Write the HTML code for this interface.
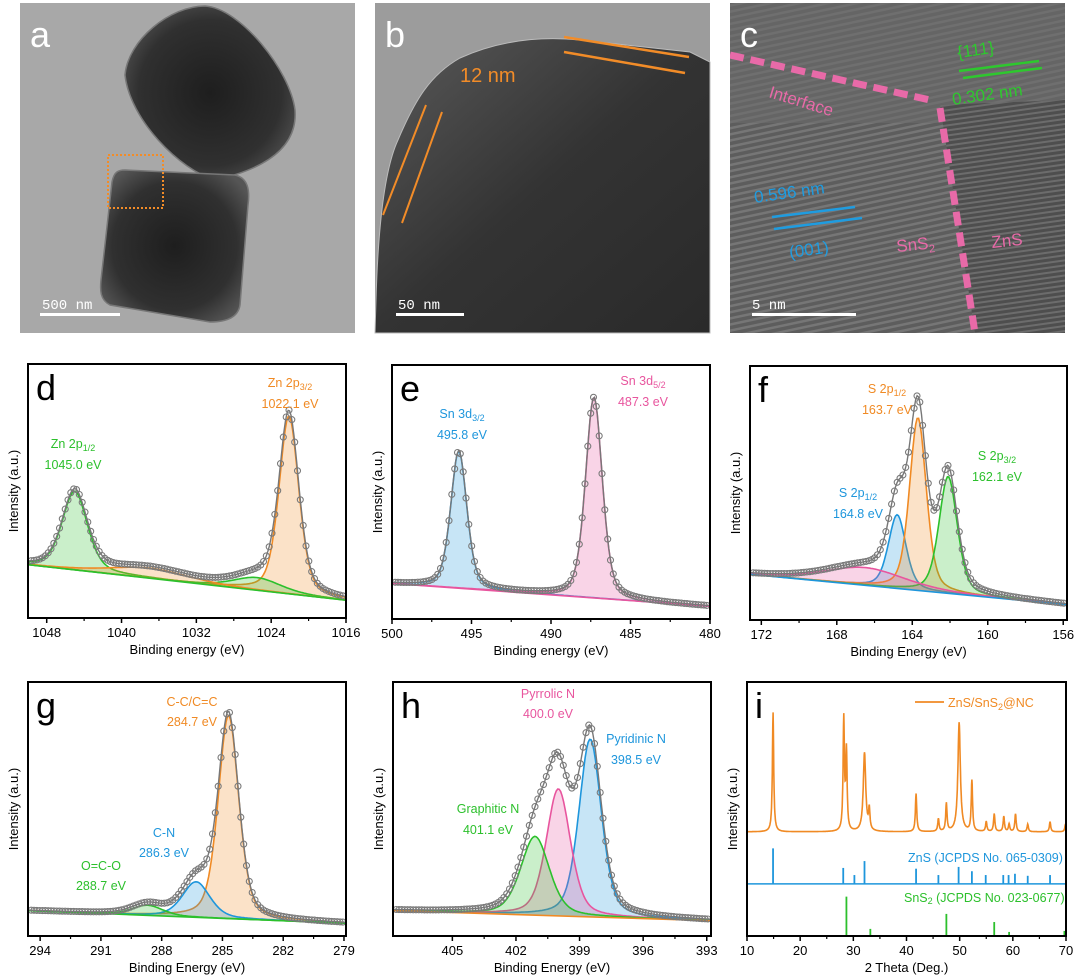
<!DOCTYPE html>
<html><head><meta charset="utf-8"><style>
html,body{margin:0;padding:0;background:#fff;}
svg{display:block;font-family:"Liberation Sans",sans-serif;}
</style></head><body>
<svg id="fig" width="1080" height="978" viewBox="0 0 1080 978" xmlns="http://www.w3.org/2000/svg">
<defs>
<radialGradient id="gA" cx="50%" cy="50%" r="60%"><stop offset="0" stop-color="#1e1e1e"/><stop offset="0.7" stop-color="#303030"/><stop offset="1" stop-color="#555"/></radialGradient>
<linearGradient id="gB" x1="0" y1="0" x2="1" y2="1"><stop offset="0" stop-color="#5a5a5a"/><stop offset="0.5" stop-color="#333"/><stop offset="1" stop-color="#2a2a2a"/></linearGradient>
<pattern id="lat1" width="6" height="6" patternUnits="userSpaceOnUse" patternTransform="rotate(-12)"><rect width="6" height="6" fill="#5d5d5d"/><rect width="6" height="2.5" fill="#767676"/></pattern>
<pattern id="lat2" width="5" height="5" patternUnits="userSpaceOnUse" patternTransform="rotate(-8)"><rect width="5" height="5" fill="#4e4e4e"/><rect width="5" height="2" fill="#6c6c6c"/></pattern>
<clipPath id="cc"><rect x="730" y="3" width="335" height="330"/></clipPath>
</defs>

<g>
<rect x="20" y="3" width="335" height="330" fill="#a8a8a8"/>
<path d="M205,6 C240,8 290,70 295,110 C298,150 260,170 215,180 C180,170 130,120 125,75 C128,40 170,6 205,6Z" fill="url(#gA)" stroke="#777" stroke-width="1.5"/>
<path d="M125,170 L235,175 C248,178 250,190 248,205 L240,305 C238,318 225,322 210,322 L110,305 C100,300 100,290 101,280 L112,182 C114,172 118,170 125,170Z" fill="url(#gA)" stroke="#777" stroke-width="1.5"/>
<rect x="108" y="155" width="55" height="53" fill="none" stroke="#f28c28" stroke-width="2" stroke-dasharray="2,2"/>
<text x="30" y="47" font-size="36" fill="#fff">a</text>
<text x="42" y="309" font-size="14" fill="#fff" font-family="Liberation Mono">500 nm</text>
<rect x="40" y="313" width="80" height="3" fill="#fff"/>
</g>

<g>
<rect x="375" y="3" width="335" height="330" fill="#9c9c9c"/>
<path d="M376,300 C378,230 384,170 398,140 C415,100 430,75 460,58 C500,40 540,36 580,40 L690,52 L710,62 L710,333 L375,333Z" fill="url(#gB)" stroke="#bbb" stroke-width="1"/>
<line x1="383" y1="215" x2="426" y2="105" stroke="#f28c28" stroke-width="2"/>
<line x1="402" y1="223" x2="442" y2="112" stroke="#f28c28" stroke-width="2"/>
<line x1="564" y1="37" x2="689" y2="57" stroke="#f28c28" stroke-width="2.5"/>
<line x1="564" y1="52" x2="685" y2="73" stroke="#f28c28" stroke-width="2.5"/>
<text x="460" y="82" font-size="20" fill="#f28c28">12 nm</text>
<text x="385" y="47" font-size="36" fill="#fff">b</text>
<text x="398" y="309" font-size="14" fill="#fff" font-family="Liberation Mono">50 nm</text>
<rect x="396" y="313" width="68" height="3" fill="#fff"/>
</g>

<g clip-path="url(#cc)">
<rect x="730" y="3" width="335" height="330" fill="url(#lat1)"/>
<rect x="730" y="3" width="335" height="120" fill="#6a6a6a" opacity="0.6"/>
<path d="M940,105 L1065,100 L1065,333 L975,333Z" fill="url(#lat2)"/>
<polyline points="730,55 930,100" fill="none" stroke="#e86aa8" stroke-width="7" stroke-dasharray="14,7"/>
<polyline points="940,108 975,333" fill="none" stroke="#e86aa8" stroke-width="7" stroke-dasharray="14,7"/>
<line x1="959" y1="71" x2="1039" y2="61" stroke="#2ec82e" stroke-width="2.5"/>
<line x1="963" y1="78" x2="1042" y2="68" stroke="#2ec82e" stroke-width="2.5"/>
<text x="958" y="58" font-size="17" fill="#2ec82e" transform="rotate(-8 958 58)">{111}</text>
<text x="953" y="105" font-size="17" fill="#2ec82e" transform="rotate(-8 953 105)">0.302 nm</text>
<line x1="772" y1="217" x2="855" y2="207" stroke="#1f9ce0" stroke-width="2.5"/>
<line x1="774" y1="229" x2="862" y2="218" stroke="#1f9ce0" stroke-width="2.5"/>
<text x="755" y="203" font-size="17" fill="#1f9ce0" transform="rotate(-8 755 203)">0.596 nm</text>
<text x="790" y="258" font-size="17" fill="#1f9ce0" transform="rotate(-8 790 258)">(001)</text>
<text x="768" y="97" font-size="17" fill="#e86aa8" transform="rotate(17 768 97)">Interface</text>
<text x="897" y="252" font-size="17" fill="#e86aa8" transform="rotate(-6 897 252)">SnS<tspan font-size="11" dy="4">2</tspan></text>
<text x="992" y="248" font-size="17" fill="#e86aa8" transform="rotate(-6 992 248)">ZnS</text>
<text x="740" y="47" font-size="36" fill="#fff">c</text>
<text x="752" y="309" font-size="14" fill="#fff" font-family="Liberation Mono">5 nm</text>
<rect x="752" y="313" width="104" height="3" fill="#fff"/>
</g>

<g id="charts"></g>
</svg>
<script>
// ---------- data ----------
const dTicks=[1048,1040,1032,1024,1016];
const dCenters=[1045.0,1022.1,1025.5,1037.0];
const dAmps=[0.31,0.70,0.05,0.04];
const dWidths=[3.2,2.5,6.0,10.0];
const dBase=[0.21,0.07];

const eTicks=[500,495,490,485,480];
const eCenters=[495.8,487.3];
const eAmps=[0.54,0.79];
const eWidths=[1.2,1.25];
const eBase=[0.14,0.05];

const fTicks=[172,168,164,160,156];
const fCenters=[164.8,163.7,162.1,166.5];
const fAmps=[0.29,0.68,0.46,0.07];
const fWidths=[1.1,1.05,1.15,5.0];
const fBase=[0.18,0.06];

const gTicks=[294,291,288,285,282,279];
const gCenters=[284.7,286.3,288.7];
const gAmps=[0.80,0.14,0.04];
const gWidths=[1.2,1.6,1.8];
const gBase=[0.10,0.05];

const hTicks=[405,402,399,396,393];
const hCenters=[398.5,400.0,401.1];
const hAmps=[0.70,0.50,0.31];
const hWidths=[1.25,1.35,1.6];
const hBase=[0.10,0.06];

const xrdTicks=[10,20,30,40,50,60,70];
const xrdPos=[14.9,28.2,28.7,32.1,33.0,41.8,46.0,47.5,49.9,52.3,55.0,56.5,58.3,59.3,60.5,62.8,67.0,69.9];
const xrdHeights=[0.47,0.44,0.31,0.31,0.08,0.15,0.05,0.11,0.43,0.20,0.04,0.07,0.06,0.03,0.07,0.03,0.04,0.03];
const znsPos=[14.9,28.1,30.2,32.1,41.8,46.0,49.8,52.3,54.9,58.2,59.2,60.4,62.8,67.0];
const znsHeights=[0.14,0.063,0.035,0.09,0.06,0.035,0.067,0.05,0.035,0.035,0.035,0.04,0.032,0.035];
const sns2Pos=[28.7,33.2,47.5,56.5,59.3,69.7];
const sns2Heights=[0.155,0.028,0.087,0.055,0.016,0.02];

// ---------- helpers ----------
const NS="http://www.w3.org/2000/svg";
const root=document.getElementById('charts');
function mk(tag,attrs,parent){const e=document.createElementNS(NS,tag);for(const k in attrs)e.setAttribute(k,attrs[k]);(parent||root).appendChild(e);return e;}
function pv(x,c,a,w){const d=x-c;return a*(0.6*Math.exp(-4*Math.LN2*d*d/(w*w))+0.4/(1+4*d*d/(w*w)));}

function xpsPanel(o){
  const g=mk('g',{});
  
  
  const [x0,y0,x1,y1]=o.box;
  const sx=v=>x0+(v-o.xl)/(o.xr-o.xl)*(x1-x0);
  const sy=v=>y1-v*(y1-y0);
  const base=v=>o.base[0]+(o.base[1]-o.base[0])*(v-o.xl)/(o.xr-o.xl);
  const n=220;
  const xs=[];for(let i=0;i<=n;i++)xs.push(o.xl+(o.xr-o.xl)*i/n);
  for(let k=0;k<o.centers.length;k++){
    let top=xs.map(v=>[sx(v),sy(base(v)+pv(v,o.centers[k],o.amps[k],o.widths[k]))]);
    let bot=xs.slice().reverse().map(v=>[sx(v),sy(base(v))]);
    const area=mk('path',{d:'M'+top.concat(bot).map(p=>p[0].toFixed(1)+','+p[1].toFixed(1)).join('L')+'Z',fill:o.colors[k],'fill-opacity':0.25,stroke:'none'},g);
    
    
    const ln=mk('polyline',{points:top.map(p=>p[0].toFixed(1)+','+p[1].toFixed(1)).join(' '),fill:'none',stroke:o.colors[k],'stroke-width':1.6},g);
    
    
  }
  const bl=mk('line',{x1:sx(o.xl),y1:sy(o.base[0]),x2:sx(o.xr),y2:sy(o.base[1]),stroke:o.baseColor,'stroke-width':1.6},g);
  
  
  const env=v=>{let s=base(v);for(let k=0;k<o.centers.length;k++)s+=pv(v,o.centers[k],o.amps[k],o.widths[k]);return s;};
  const ep=mk('polyline',{points:xs.map(v=>sx(v).toFixed(1)+','+sy(env(v)).toFixed(1)).join(' '),fill:'none',stroke:'#777','stroke-width':1.4},g);
  
  
  const m=110;
  for(let i=0;i<=m;i++){
    const v=o.xl+(o.xr-o.xl)*(0.01+0.98*i/m);
    const c=mk('circle',{cx:sx(v).toFixed(1),cy:sy(env(v)).toFixed(1),r:3,fill:'none',stroke:'#7a7a7a','stroke-width':1.1},g);
    
    
  }
  axes(g,o,sx);
}

function axes(g,o,sx){
  const [x0,y0,x1,y1]=o.box;
  const fr=mk('rect',{x:x0,y:y0,width:x1-x0,height:y1-y0,fill:'none',stroke:'#000','stroke-width':2},g);
  
  
  for(let i=0;i<o.ticks.length;i++){
    const t=o.ticks[i];const X=sx(t);
    const tk=mk('line',{x1:X,y1:y1,x2:X,y2:y1+5,stroke:'#000','stroke-width':1.5},g);
    
    
    const lb=mk('text',{x:X,y:y1+19,'font-size':13,'text-anchor':'middle',fill:'#000'},g);
    lb.textContent=t;
    
    
    if(i<o.ticks.length-1){
      const mx=sx((t+o.ticks[i+1])/2);
      const mt=mk('line',{x1:mx,y1:y1,x2:mx,y2:y1+3,stroke:'#000','stroke-width':1.2},g);
      
      
    }
  }
  const xt=mk('text',{x:(x0+x1)/2,y:y1+36,'font-size':13,'text-anchor':'middle',fill:'#000'},g);
  xt.textContent=o.xlabel;
  
  
  const yt=mk('text',{x:x0-10,y:(y0+y1)/2,'font-size':13,'text-anchor':'middle',fill:'#000',transform:'rotate(-90 '+(x0-10)+' '+((y0+y1)/2)+')'},g);
  yt.textContent='Intensity (a.u.)';
  
  
  const pl=mk('text',{x:x0+8,y:y0+36,'font-size':36,fill:'#000'},g);
  pl.textContent=o.letter;
  
  
}

function lab(x,y,lines,color,anchor){
  const t=mk('text',{x:x,y:y,'font-size':12.5,fill:color,'text-anchor':anchor||'middle'});
  
  
  t.innerHTML=lines;
}

const GREEN='#2cc02c',ORANGE='#f08a24',BLUE='#1e96dc',PINK='#e8559e';
xpsPanel({name:'panel-d',letter:'d',box:[28,364,346,618],xl:1050,xr:1016,ticks:dTicks,centers:dCenters,amps:dAmps,widths:dWidths,base:dBase,colors:[GREEN,ORANGE,GREEN,ORANGE],baseColor:GREEN,xlabel:'Binding energy (eV)'});
xpsPanel({name:'panel-e',letter:'e',box:[392,365,710,619],xl:500,xr:480,ticks:eTicks,centers:eCenters,amps:eAmps,widths:eWidths,base:eBase,colors:[BLUE,PINK],baseColor:PINK,xlabel:'Binding energy (eV)'});
xpsPanel({name:'panel-f',letter:'f',box:[750,366,1067,620],xl:172.6,xr:155.8,ticks:fTicks,centers:fCenters,amps:fAmps,widths:fWidths,base:fBase,colors:[BLUE,ORANGE,GREEN,PINK],baseColor:BLUE,xlabel:'Binding Energy (eV)'});
xpsPanel({name:'panel-g',letter:'g',box:[28,682,346,936],xl:294.6,xr:278.9,ticks:gTicks,centers:gCenters,amps:gAmps,widths:gWidths,base:gBase,colors:[ORANGE,BLUE,GREEN],baseColor:GREEN,xlabel:'Binding Energy (eV)'});
xpsPanel({name:'panel-h',letter:'h',box:[393,682,711,936],xl:407.8,xr:392.8,ticks:hTicks,centers:hCenters,amps:hAmps,widths:hWidths,base:hBase,colors:[BLUE,PINK,GREEN],baseColor:ORANGE,xlabel:'Binding Energy (eV)'});

lab(73,448,'Zn 2p<tspan font-size="9" dy="3">1/2</tspan>',GREEN);
lab(73,469,'1045.0 eV',GREEN);
lab(290,387,'Zn 2p<tspan font-size="9" dy="3">3/2</tspan>',ORANGE);
lab(290,408,'1022.1 eV',ORANGE);
lab(462,418,'Sn 3d<tspan font-size="9" dy="3">3/2</tspan>',BLUE);
lab(462,439,'495.8 eV',BLUE);
lab(643,385,'Sn 3d<tspan font-size="9" dy="3">5/2</tspan>',PINK);
lab(643,406,'487.3 eV',PINK);
lab(887,393,'S 2p<tspan font-size="9" dy="3">1/2</tspan>',ORANGE);
lab(887,414,'163.7 eV',ORANGE);
lab(997,460,'S 2p<tspan font-size="9" dy="3">3/2</tspan>',GREEN);
lab(997,481,'162.1 eV',GREEN);
lab(858,497,'S 2p<tspan font-size="9" dy="3">1/2</tspan>',BLUE);
lab(858,518,'164.8 eV',BLUE);
lab(192,706,'C-C/C=C',ORANGE);
lab(192,726,'284.7 eV',ORANGE);
lab(164,837,'C-N',BLUE);
lab(164,857,'286.3 eV',BLUE);
lab(101,870,'O=C-O',GREEN);
lab(101,890,'288.7 eV',GREEN);
lab(548,698,'Pyrrolic N',PINK);
lab(548,718,'400.0 eV',PINK);
lab(636,743,'Pyridinic N',BLUE);
lab(636,764,'398.5 eV',BLUE);
lab(488,813,'Graphitic N',GREEN);
lab(488,834,'401.1 eV',GREEN);

// ---------- XRD panel i ----------
(function(){
  const g=mk('g',{});
  
  
  const o={name:'panel-i',letter:'i',box:[747,682,1066,936],xl:10,xr:70,ticks:xrdTicks,xlabel:'2 Theta (Deg.)'};
  const [x0,y0,x1,y1]=o.box;
  const sx=v=>x0+(v-o.xl)/(o.xr-o.xl)*(x1-x0);
  const sy=v=>y1-v*(y1-y0);
  const pts=[];
  for(let v=10;v<=70.001;v+=0.05){
    let s=0.41;
    for(let k=0;k<xrdPos.length;k++){const w=(xrdHeights[k]>0.25&&xrdPos[k]>30)?0.55:0.3;const d=(v-xrdPos[k])/(w/2);s+=xrdHeights[k]/(1+d*d);}
    pts.push(sx(v).toFixed(1)+','+sy(s).toFixed(1));
  }
  const c=mk('polyline',{points:pts.join(' '),fill:'none',stroke:ORANGE,'stroke-width':1.6},g);
  
  
  const zb=0.205;
  const zl=mk('line',{x1:x0,y1:sy(zb),x2:x1,y2:sy(zb),stroke:BLUE,'stroke-width':1.5},g);
  
  
  for(let k=0;k<znsPos.length;k++){
    const s=mk('line',{x1:sx(znsPos[k]),y1:sy(zb),x2:sx(znsPos[k]),y2:sy(zb+znsHeights[k]),stroke:BLUE,'stroke-width':1.8},g);
    
    
  }
  for(let k=0;k<sns2Pos.length;k++){
    const s=mk('line',{x1:sx(sns2Pos[k]),y1:sy(0),x2:sx(sns2Pos[k]),y2:sy(sns2Heights[k]),stroke:GREEN,'stroke-width':1.8},g);
    
    
  }
  axes(g,o,sx);
  const ll=mk('line',{x1:915,y1:702,x2:944,y2:702,stroke:ORANGE,'stroke-width':1.8},g);
  
  
})();
lab(948,707,'ZnS/SnS<tspan font-size="9" dy="3">2</tspan><tspan dy="-3">@NC</tspan>',ORANGE,'start');
lab(908,862,'ZnS (JCPDS No. 065-0309)',BLUE,'start');
lab(904,902,'SnS<tspan font-size="9" dy="2">2</tspan><tspan dy="-2"> (JCPDS No. 023-0677)</tspan>',GREEN,'start');
</script>
</body></html>
